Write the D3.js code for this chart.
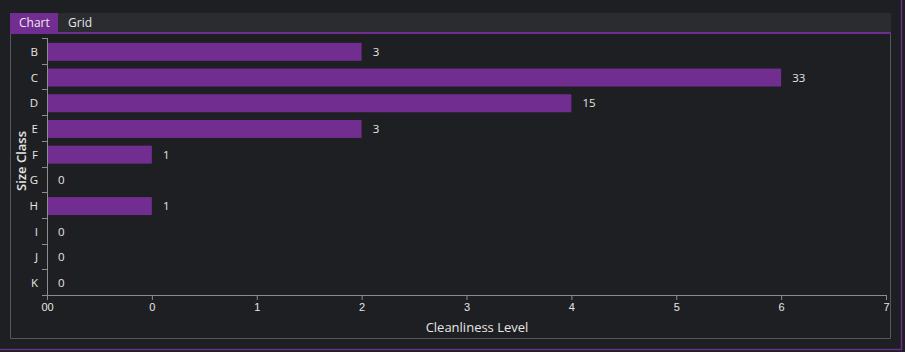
<!DOCTYPE html>
<html>
<head>
<meta charset="utf-8">
<script src="https://cdn.jsdelivr.net/npm/d3@7"></script>
<style>
  html, body { margin: 0; padding: 0; background: #1e1f22; }
  svg { display: block; font-family: "Open Sans", "Noto Sans", sans-serif; }
  .axis path, .axis line { stroke: #8c8c8c; }
  .axis text { fill: #e6e6e6; font-size: 11px; }
</style>
</head>
<body>
<script>
// data
const categories = ["B", "C", "D", "E", "F", "G", "H", "I", "J", "K"];
const barLevels = [3, 7, 5, 3, 1, 0, 1, 0, 0, 0];
const valueLabels = [3, 33, 15, 3, 1, 0, 1, 0, 0, 0];
const tickLabels = ["00", "0", "1", "2", "3", "4", "5", "6", "7"];
const tabs = ["Chart", "Grid"];

const W = 905, H = 352;
const margin = { top: 38, right: 19, bottom: 57, left: 47 };
const width = W - margin.left - margin.right;
const height = H - margin.top - margin.bottom;

const svg = d3.select(document.body).append('svg')
  .attr('width', W)
  .attr('height', H);

svg.append('rect').attr('width', W).attr('height', H).attr('fill', '#1e1f22');

// outer purple frame (right + bottom)
svg.append('line').attr('x1', 901.5).attr('x2', 901.5).attr('y1', 0).attr('y2', 349.5)
  .attr('stroke', '#6a2c86').attr('stroke-width', 1.5);
svg.append('line').attr('x1', 0).attr('x2', 902).attr('y1', 349.5).attr('y2', 349.5)
  .attr('stroke', '#6a2c86').attr('stroke-width', 1.5);

// tab bar
svg.append('rect').attr('x', 10).attr('y', 13).attr('width', 881).attr('height', 19).attr('fill', '#2b2c2f');
const tabX = [10, 58];
const tabW = [48, 40];
tabs.forEach((t, i) => {
  if (i === 0) {
    svg.append('rect').attr('x', tabX[i]).attr('y', 13).attr('width', tabW[i]).attr('height', 19).attr('fill', '#712d8f');
  }
  svg.append('text')
    .attr('x', tabX[i] + (i === 0 ? 9 : 10))
    .attr('y', 27)
    .attr('fill', i === 0 ? '#f0e6f5' : '#e6e6e6')
    .style('font-size', '12px')
    .text(t);
});
svg.append('rect').attr('x', 10).attr('y', 32).attr('width', 881).attr('height', 2).attr('fill', '#712d8f');

// panel border
svg.append('path')
  .attr('d', 'M10.5,34 V338.5 H890.5 V34')
  .attr('fill', 'none')
  .attr('stroke', '#55565a');

const g = svg.append('g').attr('transform', `translate(${margin.left},${margin.top})`);

const x = d3.scaleLinear().domain([0, 8]).range([0, width]);
const y = d3.scaleBand().domain(categories).range([0, height]).paddingInner(0.3).paddingOuter(0.15);

// bars
g.selectAll('.bar')
  .data(categories)
  .enter().append('rect')
  .attr('class', 'bar')
  .attr('x', 0)
  .attr('y', d => y(d) + 1)
  .attr('width', (d, i) => x(barLevels[i]))
  .attr('height', y.bandwidth())
  .attr('fill', '#712d8f');

g.selectAll('.val')
  .data(categories)
  .enter().append('text')
  .attr('class', 'val')
  .attr('x', (d, i) => x(barLevels[i]) + 11)
  .attr('y', d => y(d) + 1 + y.bandwidth() / 2)
  .attr('dy', '0.35em')
  .attr('fill', '#e6e6e6')
  .style('font-size', '11.5px')
  .text((d, i) => valueLabels[i]);

// y axis with ticks on band boundaries
const yAxis = g.append('g').attr('class', 'axis');
yAxis.append('line').attr('x1', 0.5).attr('x2', 0.5).attr('y1', 0).attr('y2', height);
const step = height / categories.length;
d3.range(categories.length + 1).forEach(i => {
  yAxis.append('line')
    .attr('x1', -5).attr('x2', 0.5)
    .attr('y1', Math.round(i * step) + 0.5).attr('y2', Math.round(i * step) + 0.5);
});
yAxis.selectAll('.ylab')
  .data(categories)
  .enter().append('text')
  .attr('class', 'ylab')
  .attr('x', -9)
  .attr('y', d => y(d) + 1 + y.bandwidth() / 2)
  .attr('dy', '0.35em')
  .attr('text-anchor', 'end')
  .style('font-size', '11.5px')
  .text(d => d);

// x axis
const xAxis = g.append('g')
  .attr('class', 'axis')
  .attr('transform', `translate(0,${height})`)
  .call(d3.axisBottom(x).ticks(8).tickSize(5).tickSizeOuter(0)
    .tickFormat((d, i) => tickLabels[i]));
xAxis.select('.domain').attr('d', `M-5,0.5H${width + 0.5}`);
xAxis.selectAll('text').attr('y', 8);

// axis titles
svg.append('text')
  .attr('x', 477)
  .attr('y', 332)
  .attr('text-anchor', 'middle')
  .attr('fill', '#e6e6e6')
  .style('font-size', '13px')
  .text('Cleanliness Level');

svg.append('text')
  .attr('transform', `translate(26,161) rotate(-90)`)
  .attr('text-anchor', 'middle')
  .attr('fill', '#e6e6e6')
  .style('font-size', '13px')
  .style('font-weight', '600')
  .text('Size Class');
</script>
</body>
</html>
